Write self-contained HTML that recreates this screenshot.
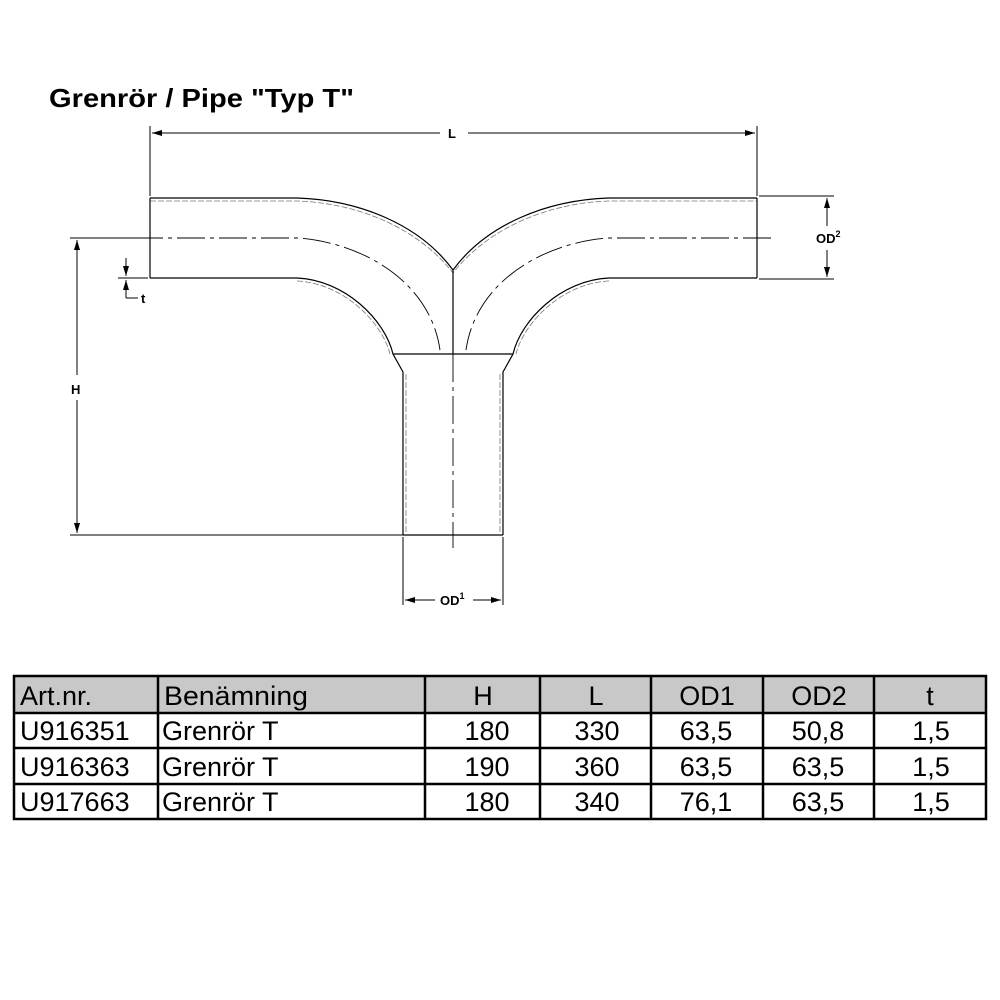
<!DOCTYPE html>
<html><head><meta charset="utf-8"><style>
html,body{margin:0;padding:0;background:#fff}
svg{display:block}
text{font-family:"Liberation Sans",Arial,sans-serif}
</style></head><body>
<svg width="1000" height="1000" viewBox="0 0 1000 1000" xmlns="http://www.w3.org/2000/svg">
<defs>
<marker id="ar" viewBox="0 0 10 6" refX="10" refY="3" markerWidth="10" markerHeight="6" orient="auto-start-reverse" markerUnits="userSpaceOnUse"><path d="M0,0 L10,3 L0,6 z" fill="#000"/></marker>
</defs>
<text x="49" y="107" font-size="26" font-weight="bold" textLength="305" lengthAdjust="spacingAndGlyphs">Grenrör / Pipe "Typ T"</text>

<g fill="none" stroke="#000" stroke-width="1">
<line x1="150" y1="126" x2="150" y2="196"/>
<line x1="757" y1="126" x2="757" y2="196"/>
<line x1="152" y1="133" x2="440" y2="133" marker-start="url(#ar)"/>
<line x1="468" y1="133" x2="755" y2="133" marker-end="url(#ar)"/>
<g stroke-width="1.2">
<path d="M150,198 L297,198 C360,200 420,225 453,270 C486,225 546,200 609,198 L757,198"/>
<path d="M150,201 L297,201 C358,203 418,228 453,273 C488,228 548,203 609,201 L757,201" stroke="#777" stroke-width="0.8" stroke-dasharray="6,2"/>
<path d="M150,278 L297,278 C345,280 385,320 393,354 L403,372 L403,535"/>
<path d="M297,281 C343,283 382,322 390,354" stroke="#777" stroke-width="0.8" stroke-dasharray="6,2"/>
<path d="M757,278 L609,278 C561,280 521,320 513,354 L503,372 L503,535"/>
<path d="M609,281 C563,283 524,322 516,354" stroke="#777" stroke-width="0.8" stroke-dasharray="6,2"/>
<line x1="406" y1="374" x2="406" y2="533" stroke="#777" stroke-width="0.8" stroke-dasharray="6,2"/>
<line x1="500" y1="374" x2="500" y2="533" stroke="#777" stroke-width="0.8" stroke-dasharray="6,2"/>
<line x1="150" y1="198" x2="150" y2="278"/>
<line x1="757" y1="198" x2="757" y2="278"/>
<line x1="393" y1="354" x2="513" y2="354"/>
<line x1="403" y1="535" x2="503" y2="535"/>
<line x1="453" y1="270" x2="453" y2="354"/>
</g>
<g stroke-dasharray="28,5,4,5" stroke-width="0.9">
<path d="M135,238 L297,238 C360,242 430,280 440,350"/>
<path d="M771,238 L609,238 C546,242 476,280 466,350"/>
<line x1="453" y1="354" x2="453" y2="548"/>
</g>
<line x1="70" y1="238" x2="140" y2="238"/>
<line x1="70" y1="535" x2="403" y2="535"/>
<line x1="77" y1="240" x2="77" y2="375" marker-start="url(#ar)"/>
<line x1="77" y1="400" x2="77" y2="533" marker-end="url(#ar)"/>
<line x1="118" y1="278" x2="148" y2="278"/>
<line x1="126" y1="258" x2="126" y2="276" marker-end="url(#ar)"/>
<line x1="126" y1="298" x2="126" y2="280" marker-end="url(#ar)"/>
<line x1="126" y1="298" x2="138" y2="298"/>
<line x1="403" y1="537" x2="403" y2="605"/>
<line x1="503" y1="537" x2="503" y2="605"/>
<line x1="405" y1="600" x2="435" y2="600" marker-start="url(#ar)"/>
<line x1="473" y1="600" x2="501" y2="600" marker-end="url(#ar)"/>
<line x1="759" y1="196" x2="834" y2="196"/>
<line x1="759" y1="279" x2="834" y2="279"/>
<line x1="827" y1="198" x2="827" y2="226" marker-start="url(#ar)"/>
<line x1="827" y1="250" x2="827" y2="277" marker-end="url(#ar)"/>
</g>
<g font-weight="bold" font-size="13">
<text x="448" y="138">L</text>
<text x="71" y="394">H</text>
<text x="141" y="303">t</text>
<text x="440" y="605">OD<tspan font-size="9" dy="-6">1</tspan></text>
<text x="816" y="243">OD<tspan font-size="9" dy="-6">2</tspan></text>
</g>

<rect x="14" y="676" width="972" height="37" fill="#c8c8c8"/>
<g stroke="#000" stroke-width="2.5" fill="none">
<rect x="14" y="676" width="972" height="143"/>
<line x1="14" y1="713" x2="986" y2="713"/>
<line x1="14" y1="748" x2="986" y2="748"/>
<line x1="14" y1="784" x2="986" y2="784"/>
<line x1="158" y1="676" x2="158" y2="819"/>
<line x1="425" y1="676" x2="425" y2="819"/>
<line x1="540" y1="676" x2="540" y2="819"/>
<line x1="651" y1="676" x2="651" y2="819"/>
<line x1="763" y1="676" x2="763" y2="819"/>
<line x1="874" y1="676" x2="874" y2="819"/>
</g>
<g font-size="27">
<text x="20" y="705">Art.nr.</text>
<text x="164" y="705" textLength="144" lengthAdjust="spacingAndGlyphs">Benämning</text>
<g text-anchor="middle">
<text x="483" y="705">H</text><text x="596" y="705">L</text><text x="707" y="705">OD1</text><text x="819" y="705">OD2</text><text x="930" y="705">t</text>
</g>
<text x="20" y="740">U916351</text><text x="162" y="740">Grenrör T</text>
<text x="20" y="776">U916363</text><text x="162" y="776">Grenrör T</text>
<text x="20" y="811">U917663</text><text x="162" y="811">Grenrör T</text>
<g text-anchor="middle">
<text x="487" y="740">180</text><text x="597" y="740">330</text><text x="706" y="740">63,5</text><text x="818" y="740">50,8</text><text x="931" y="740">1,5</text>
<text x="487" y="776">190</text><text x="597" y="776">360</text><text x="706" y="776">63,5</text><text x="818" y="776">63,5</text><text x="931" y="776">1,5</text>
<text x="487" y="811">180</text><text x="597" y="811">340</text><text x="706" y="811">76,1</text><text x="818" y="811">63,5</text><text x="931" y="811">1,5</text>
</g>
</g>
</svg>
</body></html>
